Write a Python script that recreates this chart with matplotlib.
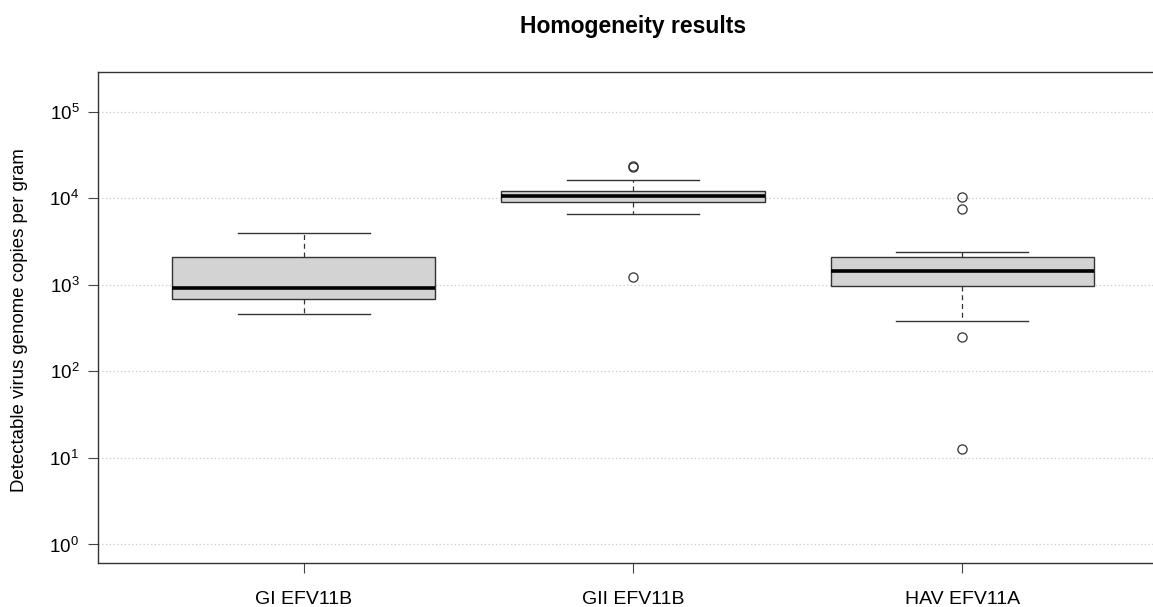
import matplotlib
matplotlib.use("Agg")
import matplotlib.pyplot as plt
import matplotlib.ticker as mticker

plt.rcParams['font.family'] = ['Liberation Sans', 'DejaVu Sans']
plt.rcParams['mathtext.fontset'] = 'custom'
plt.rcParams['mathtext.rm'] = 'Liberation Sans'
plt.rcParams['mathtext.it'] = 'Liberation Sans:italic'
plt.rcParams['mathtext.bf'] = 'Liberation Sans:bold'

# ---- data ----
categories = ["GI EFV11B", "GII EFV11B", "HAV EFV11A"]
whisker_low = [458, 6520, 377]
q1 = [684, 9060, 966]
median = [931, 10740, 1463]
q3 = [2069, 12270, 2090]
whisker_high = [3990, 16330, 2408]
outliers = [[], [23240, 23400, 1247], [10400, 7500, 251, 12.8]]
ytick_exponents = [0, 1, 2, 3, 4, 5]

W, H = 1153, 607
fig = plt.figure(figsize=(W / 100, H / 100), dpi=100)
left, right, top, bottom = 98, 1168, 72, 563
ax = fig.add_axes([left / W, (H - bottom) / H, (right - left) / W, (bottom - top) / H])

stats = []
for i, name in enumerate(categories):
    stats.append(dict(label=name, whislo=whisker_low[i], q1=q1[i], med=median[i],
                      q3=q3[i], whishi=whisker_high[i], fliers=outliers[i]))

positions = list(range(1, len(categories) + 1))
ax.bxp(stats, positions=positions, widths=0.8, patch_artist=True, showfliers=True,
       boxprops=dict(facecolor='#D3D3D3', edgecolor='#333333', linewidth=1.0),
       medianprops=dict(color='black', linewidth=2.6, solid_capstyle='butt'),
       whiskerprops=dict(color='#333333', linestyle=(0, (4, 3)), linewidth=0.9),
       capprops=dict(color='#333333', linewidth=1.0),
       capwidths=0.4,
       flierprops=dict(marker='o', markerfacecolor='none', markeredgecolor='#333333',
                       markersize=6.6, markeredgewidth=0.9),
       zorder=3)

ax.set_yscale('log')
ax.set_ylim(10 ** -0.214, 10 ** 5.459)
ax.set_xlim(0.375, 3.625)

ax.set_yticks([10 ** e for e in ytick_exponents])
ax.set_yticklabels([r'$10^{%d}$' % e for e in ytick_exponents])
ax.yaxis.set_minor_locator(mticker.NullLocator())
ax.set_xticks(positions)
ax.set_xticklabels(categories)

for e in ytick_exponents:
    ax.axhline(10 ** e, color='#C8C8C8', linestyle=(0, (1, 2)), linewidth=0.9, zorder=1)

ax.tick_params(axis='both', direction='out', length=7.5, width=0.8, color='#444444',
               labelcolor='black')
ax.tick_params(axis='y', pad=6, labelsize=13.5)
ax.tick_params(axis='x', pad=13, labelsize=14)

for s in ax.spines.values():
    s.set_color('#333333')
    s.set_linewidth(1.0)

fig.text(20 / W, 1 - 320 / H, 'Detectable virus genome copies per gram', rotation=90,
         ha='center', va='center', fontsize=13.4)
fig.text(633 / W, 1 - 27 / H, 'Homogeneity results', ha='center', va='center',
         fontsize=16.5, fontweight='bold')

fig.savefig('out.png', dpi=100)
